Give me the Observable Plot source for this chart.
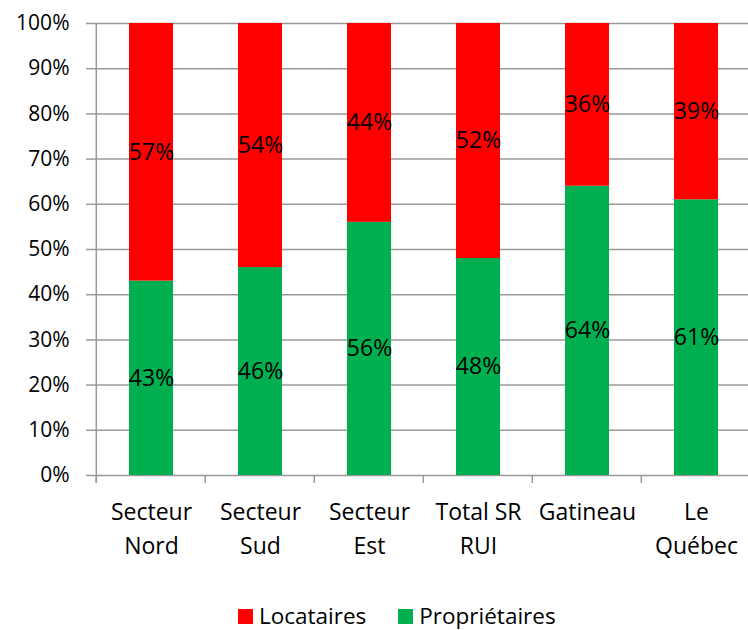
<!DOCTYPE html>
<html>
<head>
<meta charset="utf-8">
<script src="https://cdn.jsdelivr.net/npm/d3@7"></script>
<script src="https://cdn.jsdelivr.net/npm/@observablehq/plot@0.6"></script>
<style>
  body { margin: 0; background: #fff; font-family: "Open Sans", sans-serif; }
  #wrap { position: relative; width: 748px; height: 630px; }
  #legend { position: absolute; top: 603px; left: 238px; display: flex; align-items: center; font-size: 22.5px; line-height: 26px; color: #000; }
  .sw { width: 15px; height: 15px; display: inline-block; margin-right: 6px; }
  .item { display: flex; align-items: center; margin-right: 32px; }
</style>
</head>
<body>
<div id="wrap"><div id="chart"></div><div id="legend"></div></div>
<script>
const categories = ["Secteur\nNord", "Secteur\nSud", "Secteur\nEst", "Total SR\nRUI", "Gatineau", "Le\nQuébec"];
const proprietaires = [43, 46, 56, 48, 64, 61];
const locataires = [57, 54, 44, 52, 36, 39];
const seriesNames = ["Propriétaires", "Locataires"];
const seriesColors = ["#00B050", "#FF0000"];
const yTicks = [0, 10, 20, 30, 40, 50, 60, 70, 80, 90, 100];

const rows = [];
categories.forEach((c, i) => {
  rows.push({cat: c, series: seriesNames[0], value: proprietaires[i]});
  rows.push({cat: c, series: seriesNames[1], value: locataires[i]});
});

const font = "'Open Sans', sans-serif";
const W = 748;
const padInner = 0.6;

const boundaryMark = (index, scales, values, dims) => {
  const g = d3.create("svg:g").attr("stroke", "#999").attr("stroke-width", 1.5);
  const y0 = scales.y(0);
  const yTop = scales.y(100);
  const step = scales.x(categories[1]) - scales.x(categories[0]);
  const off = step * padInner / 2;
  const xL = scales.x(categories[0]) - off;
  g.append("line").attr("x1", xL).attr("x2", xL).attr("y1", yTop).attr("y2", y0 + 8);
  categories.forEach(c => {
    const x = scales.x(c) - off;
    g.append("line").attr("x1", x).attr("x2", x).attr("y1", y0).attr("y2", y0 + 8);
  });
  return g.node();
};

const chart = Plot.plot({
  width: W,
  height: 580,
  marginLeft: 94,
  marginRight: 0,
  marginTop: 23,
  marginBottom: 105,
  style: {fontFamily: font, fontSize: "21px", color: "#000", background: "#fff"},
  x: {domain: categories, range: [94, 752], paddingInner: padInner, paddingOuter: padInner / 2, label: null},
  y: {domain: [0, 100], label: null},
  color: {domain: seriesNames, range: seriesColors},
  marks: [
    Plot.gridY(yTicks, {stroke: "#999", strokeOpacity: 1, strokeWidth: 1.5}),
    Plot.barY(rows, Plot.stackY({x: "cat", y: "value", fill: "series", z: "series"})),
    Plot.text(rows, Plot.stackY({x: "cat", y: "value", z: "series", text: d => d.value + "%", fill: "#000", fontSize: 23})),
    Plot.axisY(yTicks, {tickSize: 8, tickPadding: 17, stroke: "#999", strokeWidth: 1.5, tickFormat: d => d + "%", fontSize: 21, fill: "#000"}),
    Plot.axisX({tickSize: 0, tickPadding: 21, lineHeight: 1.45, fontSize: 23, fill: "#000"}),
    boundaryMark
  ]
});
document.getElementById("chart").appendChild(chart);

const legend = document.getElementById("legend");
[1, 0].forEach(i => {
  const it = document.createElement("div");
  it.className = "item";
  const sw = document.createElement("span");
  sw.className = "sw";
  sw.style.background = seriesColors[i];
  it.appendChild(sw);
  it.appendChild(document.createTextNode(seriesNames[i]));
  legend.appendChild(it);
});
</script>
</body>
</html>
